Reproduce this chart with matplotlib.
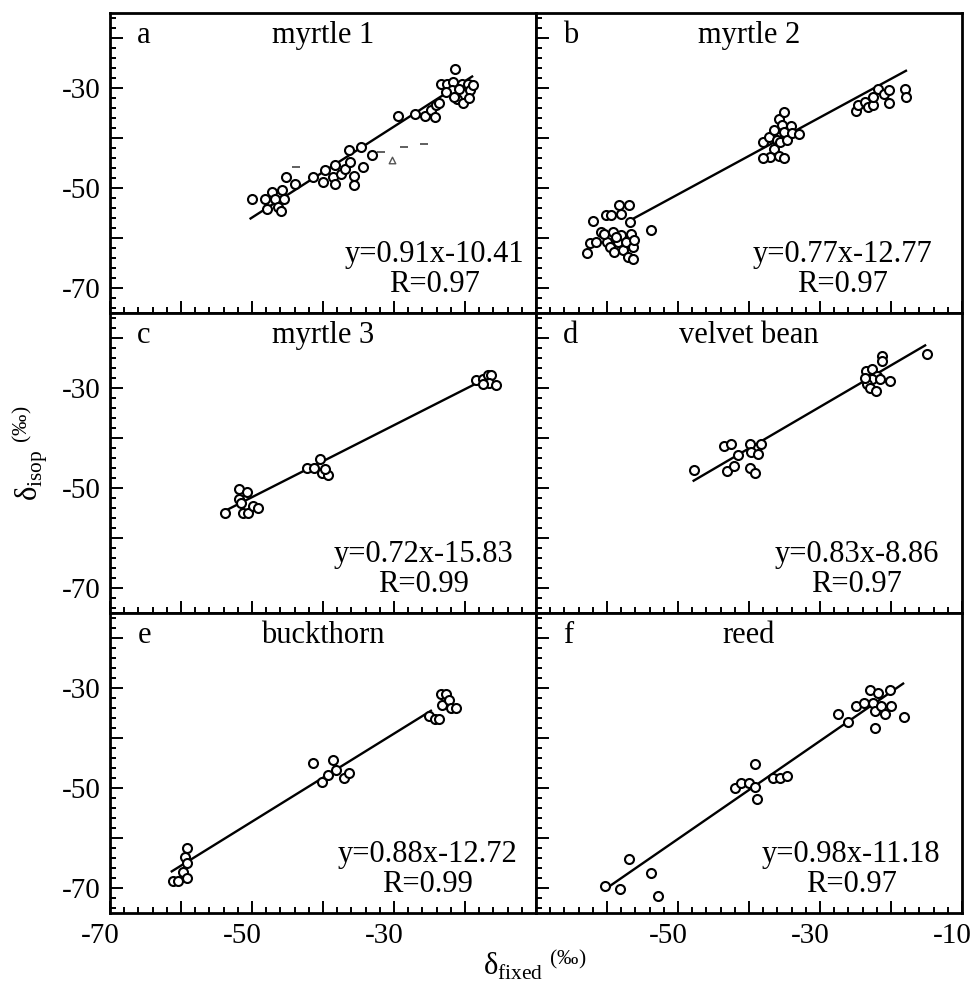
import matplotlib
matplotlib.use('Agg')
import matplotlib.pyplot as plt
from matplotlib.ticker import MultipleLocator, FuncFormatter
from matplotlib.transforms import ScaledTranslation
import numpy as np

plt.rcParams['font.family'] = ['Liberation Serif', 'DejaVu Serif']
plt.rcParams['mathtext.fontset'] = 'custom'
plt.rcParams['mathtext.rm'] = 'Liberation Serif'
plt.rcParams['mathtext.it'] = 'Liberation Serif:italic'
plt.rcParams['axes.unicode_minus'] = False

# ---------------- data ----------------
titles = ["myrtle 1", "myrtle 2", "myrtle 3", "velvet bean", "buckthorn", "reed"]
letters = ["a", "b", "c", "d", "e", "f"]
slopes = [0.91, 0.77, 0.72, 0.83, 0.88, 0.98]
intercepts = [-10.41, -12.77, -15.83, -8.86, -12.72, -11.18]
r_values = [0.97, 0.97, 0.99, 0.97, 0.99, 0.97]
line_start = [-50.2, -56.2, -53.5, -47.8, -61.3, -59.5]
line_end = [-19.0, -17.9, -18.5, -15.2, -24.8, -18.3]

a_x = [-50.0, -48.2, -47.2, -47.9, -46.8, -46.4, -45.9, -45.8, -45.5, -45.2, -44.0,
       -41.4, -40.0, -39.7, -38.55, -38.3, -37.5, -36.9, -36.3, -36.2, -35.7, -35.7,
       -34.6, -34.3, -33.1, -38.3,
       -29.4, -27.1, -25.6, -24.85, -24.2, -24.1, -23.7, -23.4, -22.5, -21.7, -21.4,
       -21.8, -20.4, -20.9, -19.65, -19.3, -18.9, -21.1, -20.3, -19.5, -21.5, -22.7]
a_y = [-52.1, -52.1, -50.7, -54.1, -52.1, -53.7, -54.6, -50.4, -52.1, -47.7, -49.1,
       -47.7, -48.7, -46.4, -47.7, -45.4, -47.1, -46.1, -42.3, -44.7, -47.5, -49.4,
       -41.7, -45.7, -43.4, -49.1,
       -35.6, -35.1, -35.6, -34.4, -35.7, -33.4, -32.9, -29.1, -29.1, -28.7, -26.2,
       -30.4, -29.1, -30.1, -29.1, -30.4, -29.3, -32.1, -32.9, -31.9, -31.7, -30.7]
a_dash_x = [-43.8, -31.8, -28.6, -25.8]
a_dash_y = [-45.7, -42.7, -41.7, -41.1]
a_tri_x = [-30.3]
a_tri_y = [-44.4]

b_x = [-62.8, -62.4, -61.6, -62.0, -60.9, -60.2, -59.5, -60.0, -59.6, -59.2, -59.0,
       -58.5, -58.3, -58.05, -58.05, -57.8, -57.35, -57.1, -56.9, -56.75, -56.65,
       -56.4, -56.2, -56.4, -53.8, -60.4, -58.8,
       -38.1, -37.2, -36.5, -35.8, -35.1, -35.3, -35.1, -36.0, -36.5, -37.0, -38.1,
       -35.6, -34.6, -34.1, -33.9, -32.9, -35.8, -35.1,
       -25.0, -24.6, -23.6, -23.2, -22.55, -22.5, -21.9, -21.05, -20.35, -20.35,
       -18.0, -17.9]
b_y = [-62.9, -60.9, -60.7, -56.5, -58.7, -55.4, -55.4, -60.7, -61.7, -58.7, -62.7,
       -60.7, -53.4, -55.1, -59.4, -62.4, -60.7, -63.7, -53.4, -56.7, -59.1,
       -61.7, -60.4, -64.1, -58.3, -59.1, -59.7,
       -40.7, -39.7, -38.4, -36.1, -34.7, -37.4, -38.7, -40.4, -42.1, -43.7, -43.9,
       -40.7, -40.4, -37.6, -38.9, -39.2, -43.6, -43.9,
       -34.5, -33.4, -32.7, -33.7, -33.3, -31.7, -30.1, -31.1, -30.3, -32.9,
       -30.1, -31.7]

c_x = [-53.8, -51.8, -50.7, -51.8, -51.5, -51.3, -50.5, -49.9, -49.1,
       -42.3, -41.2, -40.45, -40.2, -39.3, -39.7,
       -18.5, -17.4, -16.8, -16.3, -16.6, -15.6, -17.4]
c_y = [-54.9, -50.1, -50.7, -52.1, -52.9, -54.9, -54.9, -53.5, -53.9,
       -45.9, -45.9, -44.2, -46.9, -47.4, -46.2,
       -28.4, -28.2, -27.4, -27.4, -29.0, -29.4, -29.2]

d_x = [-47.7, -43.5, -42.5, -41.6, -43.1, -42.1, -39.8, -39.7, -38.3, -38.8, -39.8, -39.2,
       -23.5, -22.7, -22.0, -22.7, -23.4, -22.9, -22.1, -21.5, -21.3, -21.3, -20.1,
       -23.6, -15.0]
d_y = [-46.4, -41.5, -41.2, -43.4, -46.5, -45.5, -41.2, -42.7, -41.2, -43.2, -45.9, -47.0,
       -26.5, -26.2, -27.5, -28.2, -29.2, -29.9, -30.5, -28.2, -23.5, -24.5, -28.5,
       -27.9, -23.2]

e_x = [-61.1, -60.45, -59.7, -59.5, -59.1, -59.1, -59.1,
       -41.4, -40.2, -39.3, -38.55, -38.2, -37.1, -36.4,
       -25.1, -24.2, -23.6, -23.4, -22.7, -23.2, -22.3, -22.0, -21.2]
e_y = [-68.5, -68.5, -66.7, -63.7, -61.9, -64.9, -67.9,
       -45.0, -48.7, -47.4, -44.4, -46.3, -47.9, -47.0,
       -35.5, -36.1, -36.1, -31.2, -31.2, -33.4, -32.3, -33.9, -33.9]

f_x = [-60.3, -58.15, -56.9, -53.8, -52.8,
       -42.0, -41.2, -40.0, -39.1, -39.2, -38.85, -36.6, -35.6, -34.7,
       -27.5, -26.1, -24.9, -23.8, -23.0, -22.55, -21.9, -22.2, -21.4, -20.8,
       -20.0, -20.1, -22.2, -18.15]
f_y = [-69.5, -70.1, -64.2, -66.9, -71.5,
       -50.0, -49.0, -48.9, -49.7, -45.2, -52.1, -47.9, -47.9, -47.5,
       -35.2, -36.7, -33.5, -33.0, -30.3, -33.0, -31.0, -34.5, -33.6, -35.2,
       -33.5, -30.3, -37.9, -35.7]

panel_x = [a_x, b_x, c_x, d_x, e_x, f_x]
panel_y = [a_y, b_y, c_y, d_y, e_y, f_y]

x_range = (-70, -10)
y_range = (-75, -15)
y_labelled = [-30, -50, -70]
x_labelled_left = [-70, -50, -30]
x_labelled_right = [-50, -30, -10]

# text placement (axes fractions)
eq_xc = [0.761, 0.72, 0.737, 0.752, 0.746, 0.74]

# ---------------- figure ----------------
fig = plt.figure(figsize=(9.76, 9.86), dpi=100)
gs = fig.add_gridspec(3, 2, left=0.1127, right=0.9857, top=0.9868, bottom=0.074,
                      wspace=0, hspace=0)

FS = 22
for i in range(6):
    row, col = divmod(i, 2)
    ax = fig.add_subplot(gs[row, col])
    ax.set_xlim(*x_range)
    ax.set_ylim(*y_range)

    xs = np.linspace(line_start[i], line_end[i], 50)
    ax.plot(xs, slopes[i] * xs + intercepts[i], color='black', lw=1.7, zorder=2)
    ax.scatter(panel_x[i], panel_y[i], s=42, facecolors='white', edgecolors='black',
               linewidths=1.5, zorder=3)
    if i == 0:
        ax.scatter(a_dash_x, a_dash_y, marker='_', s=30, color='#444444',
                   linewidths=1.2, zorder=2.5)
        ax.scatter(a_tri_x, a_tri_y, marker='^', s=22, facecolors='white',
                   edgecolors='#555555', linewidths=1.0, zorder=2.5)

    ax.text(0.064, 0.925, letters[i], transform=ax.transAxes, fontsize=FS,
            ha='left', va='center')
    ax.text(0.5, 0.925, titles[i], transform=ax.transAxes, fontsize=FS,
            ha='center', va='center')
    ax.text(eq_xc[i], 0.195, f"y={slopes[i]:.2f}x{intercepts[i]:.2f}",
            transform=ax.transAxes, fontsize=FS, ha='center', va='center')
    ax.text(eq_xc[i], 0.095, f"R={r_values[i]:.2f}",
            transform=ax.transAxes, fontsize=FS, ha='center', va='center')

    ax.xaxis.set_major_locator(MultipleLocator(10))
    ax.xaxis.set_minor_locator(MultipleLocator(2))
    ax.yaxis.set_major_locator(MultipleLocator(10))
    ax.yaxis.set_minor_locator(MultipleLocator(2))
    ax.tick_params(which='both', direction='in', top=False, right=False,
                   labelsize=21, width=1.4, color='black')
    ax.tick_params(which='major', length=9, pad=7)
    ax.tick_params(which='minor', length=4.5)

    for s in ax.spines.values():
        s.set_linewidth(2.0)

    if col == 0:
        ax.yaxis.set_major_formatter(FuncFormatter(
            lambda v, p: f"{v:.0f}" if round(v) in y_labelled else ""))
    else:
        ax.tick_params(labelleft=False)

    if row == 2:
        lab = x_labelled_left if col == 0 else x_labelled_right
        ax.xaxis.set_major_formatter(FuncFormatter(
            lambda v, p, lab=lab: f"{v:.0f}" if round(v) in lab else ""))
        offset = ScaledTranslation(-10 / 100, 0, fig.dpi_scale_trans)
        for lbl in ax.get_xticklabels():
            lbl.set_transform(lbl.get_transform() + offset)
    else:
        ax.tick_params(labelbottom=False)

fig.text(0.548, 0.021, r'$\mathrm{δ}_{\mathrm{fixed}}\ {}^{(\mathit{‰})}$', fontsize=FS,
         ha='center', va='center')
fig.text(0.031, 0.54, r'$\mathrm{δ}_{\mathrm{isop}}\ {}^{(\mathit{‰})}$', fontsize=FS,
         ha='center', va='center', rotation=90)

fig.savefig('out.png', dpi=100)
